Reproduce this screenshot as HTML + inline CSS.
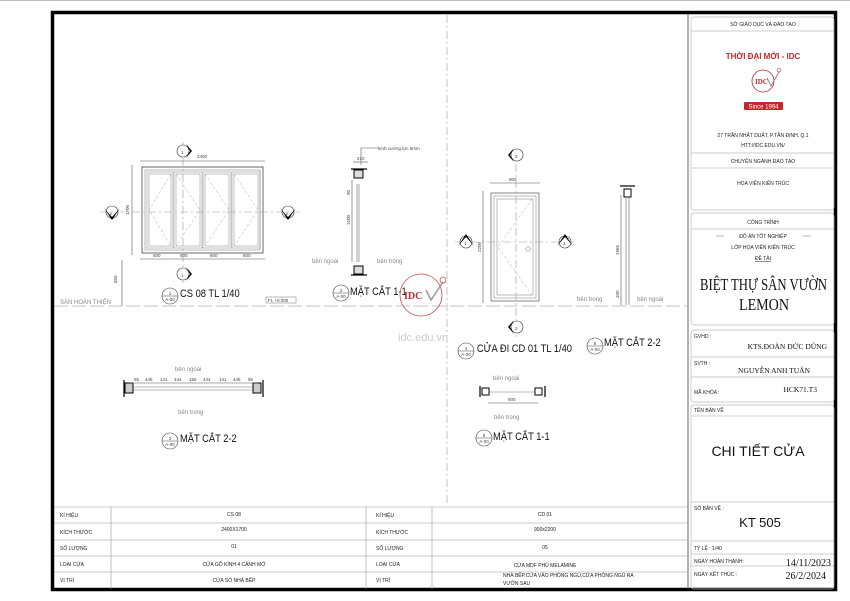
<!DOCTYPE html>
<html><head><meta charset="utf-8"><style>
html,body{margin:0;padding:0;background:#fff;}
svg{display:block;}
text{font-family:"Liberation Sans",sans-serif;}
.s{font-size:4.5px;fill:#444;}
.g{font-size:6px;fill:#888;}
.t{font-size:11px;fill:#111;}
.tb{font-size:5px;fill:#222;}
.ln{stroke:#555;stroke-width:0.6;fill:none;}
.dl{stroke:#999;stroke-width:0.6;fill:none;stroke-dasharray:8 3 2 3;}
.sf{font-family:"Liberation Serif",serif;}
</style></head><body>
<svg width="850" height="601" viewBox="0 0 850 601" xmlns="http://www.w3.org/2000/svg">
<rect x="0" y="0" width="850" height="601" fill="#fff"/>
<line x1="0" y1="0.5" x2="850" y2="0.5" stroke="#bbb"/>
<rect x="52.5" y="12.5" width="783" height="577" fill="none" stroke="#000" stroke-width="3.5"/>
<line x1="688" y1="14" x2="688" y2="589" stroke="#666" stroke-width="1"/>

<line class="dl" x1="447" y1="15" x2="447" y2="505"/>
<line x1="54" y1="306" x2="688" y2="306" stroke="#888" stroke-width="0.6" stroke-dasharray="14 4"/>
<text x="60" y="304" class="g" font-size="5.5">SÀN HOÀN THIỆN</text>
<rect x="266" y="297" width="30" height="6" fill="none" stroke="#777" stroke-width="0.5"/>
<text x="268" y="302" class="s" font-size="4">FL +0.000</text>
<line x1="122" y1="260" x2="122" y2="306" class="ln"/>
<text x="117" y="283" class="s" transform="rotate(-90 117 283)">850</text>

<g>
<rect x="142" y="167" width="121" height="86" fill="none" stroke="#444" stroke-width="0.8"/>
<rect x="145" y="170" width="115" height="80" fill="none" stroke="#777" stroke-width="0.5"/>
<g stroke="#666" stroke-width="0.4" fill="none">
<rect x="147" y="172" width="26" height="76"/><rect x="149" y="174" width="22" height="72"/>
<rect x="174" y="172" width="28" height="76"/><rect x="176" y="174" width="24" height="72"/>
<rect x="203" y="172" width="28" height="76"/><rect x="205" y="174" width="24" height="72"/>
<rect x="232" y="172" width="28" height="76"/><rect x="234" y="174" width="24" height="72"/>
</g>
<g stroke="#aaa" stroke-width="0.5" stroke-dasharray="3 2" fill="none">
<polyline points="171,174 149,210 171,246"/>
<polyline points="176,174 200,210 176,246"/>
<polyline points="205,174 229,210 205,246"/>
<polyline points="234,174 258,210 234,246"/>
</g>
<line class="dl" x1="100" y1="212" x2="300" y2="212"/>
<line class="dl" x1="183" y1="142" x2="183" y2="285"/>
<line class="ln" x1="140" y1="161" x2="265" y2="161"/><text x="197" y="158" class="s">2400</text>
<line class="ln" x1="140" y1="259" x2="265" y2="259"/>
<text x="153" y="257" class="s">600</text><text x="180" y="257" class="s">600</text><text x="210" y="257" class="s">600</text><text x="243" y="257" class="s">600</text>
<line class="ln" x1="132" y1="165" x2="132" y2="255"/><text x="129" y="215" class="s" transform="rotate(-90 129 215)">1700</text>
</g>
<g fill="#fff" stroke="#333" stroke-width="0.6">
<circle cx="183" cy="151" r="6"/><circle cx="183" cy="274" r="6"/>
<circle cx="112" cy="212" r="6"/><circle cx="288" cy="212" r="6"/>
</g>
<g fill="#000">
<path d="M186,144 L192,151 L186,158 L190,151Z"/><path d="M186,267 L192,274 L186,281 L190,274Z"/>
<path d="M104,208 L112,220 L120,208 L112,217Z"/><path d="M280,208 L288,220 L296,208 L288,217Z"/>
</g>
<g class="s" font-size="6" fill="#333"><text x="181" y="154">1</text><text x="181" y="277">1</text><text x="110" y="215">2</text><text x="286" y="215">2</text></g>

<g fill="#fff" stroke="#444" stroke-width="0.6">
<circle cx="170" cy="296" r="8"/><circle cx="341" cy="293" r="8"/><circle cx="466" cy="351" r="8"/><circle cx="595" cy="346" r="8"/><circle cx="170" cy="441" r="8"/><circle cx="484" cy="438" r="8"/>
</g>
<g stroke="#444" stroke-width="0.5">
<line x1="162" y1="296" x2="178" y2="296"/><line x1="333" y1="293" x2="349" y2="293"/><line x1="458" y1="351" x2="474" y2="351"/><line x1="587" y1="346" x2="603" y2="346"/><line x1="162" y1="441" x2="178" y2="441"/><line x1="476" y1="438" x2="492" y2="438"/>
</g>
<g class="s" font-size="4" fill="#222" text-anchor="middle">
<text x="170" y="295">1</text><text x="170" y="301">A-00</text>
<text x="341" y="292">2</text><text x="341" y="298">A-00</text>
<text x="466" y="350">4</text><text x="466" y="356">A-00</text>
<text x="595" y="345">5</text><text x="595" y="351">A-00</text>
<text x="170" y="440">3</text><text x="170" y="446">A-00</text>
<text x="484" y="437">6</text><text x="484" y="443">A-00</text>
</g>
<g class="t" transform="scale(0.85 1)">
<text x="211.8" y="297">CS 08 TL 1/40</text>
<text x="411.8" y="295">MẶT CẮT 1-1</text>
<text x="561" y="352">CỬA ĐI CD 01 TL 1/40</text>
<text x="710.6" y="346">MẶT CẮT 2-2</text>
<text x="211.8" y="442">MẶT CẮT 2-2</text>
<text x="580" y="440">MẶT CẮT 1-1</text>
</g>

<g>
<line x1="357" y1="184" x2="357" y2="262" stroke="#666" stroke-width="0.6"/>
<line x1="359" y1="184" x2="359" y2="262" stroke="#666" stroke-width="0.6"/>
<rect x="354" y="170" width="9" height="8" fill="#ddd" stroke="#000" stroke-width="1"/>
<line x1="351" y1="169" x2="367" y2="169" stroke="#000" stroke-width="1.2"/>
<rect x="354" y="266" width="9" height="8" fill="#ddd" stroke="#000" stroke-width="1"/>
<line x1="351" y1="275" x2="367" y2="275" stroke="#000" stroke-width="1.2"/>
<polyline class="ln" points="361,165 361,148 378,148"/>
<text x="378" y="150" class="s">kính cường lực 5mm</text>
<line class="ln" x1="353" y1="162" x2="368" y2="162"/><text x="357" y="160" class="s" font-size="4">210</text>
<line class="ln" x1="352" y1="180" x2="352" y2="262"/>
<text x="350" y="195" class="s" font-size="4" transform="rotate(-90 350 195)">90</text>
<text x="350" y="225" class="s" font-size="4" transform="rotate(-90 350 225)">1500</text>
<text x="312" y="263" class="g">bên ngoài</text>
<text x="377" y="263" class="g">bên trong</text>
</g>

<circle cx="421" cy="295" r="21" fill="none" stroke="#c24a4a" stroke-width="0.8"/>
<text x="404" y="299" class="sf" font-weight="bold" font-size="10" fill="#c0282c">IDC</text>
<path d="M426,290 L431,300 L443,282" fill="none" stroke="#999" stroke-width="1.5"/>
<circle cx="443" cy="280" r="3" fill="none" stroke="#c0282c" stroke-width="0.6"/>
<text x="398" y="341" font-size="11" fill="#ccc">idc.edu.vn</text>

<g>
<rect x="491" y="193" width="48" height="108" fill="none" stroke="#555" stroke-width="0.7"/>
<rect x="494" y="196" width="42" height="102" fill="none" stroke="#777" stroke-width="0.5"/>
<rect x="497" y="199" width="36" height="96" fill="none" stroke="#777" stroke-width="0.5"/>
<polyline points="532,199 498,247 532,295" fill="none" stroke="#aaa" stroke-width="0.5" stroke-dasharray="3 2"/>
<circle cx="528" cy="249" r="2.2" fill="none" stroke="#666" stroke-width="0.5"/>
<line class="dl" x1="455" y1="242" x2="575" y2="242"/>
<line class="dl" x1="516" y1="148" x2="516" y2="338"/>
<line class="ln" x1="490" y1="183" x2="540" y2="183"/><text x="509" y="181" class="s">900</text>
<line class="ln" x1="483" y1="191" x2="483" y2="303"/><text x="481" y="252" class="s" transform="rotate(-90 481 252)">2200</text>
</g>
<g fill="#fff" stroke="#333" stroke-width="0.6">
<circle cx="517" cy="155" r="6"/><circle cx="517" cy="327" r="6"/><circle cx="466" cy="242" r="6"/><circle cx="565" cy="242" r="6"/>
</g>
<g fill="#000">
<path d="M514,148 L508,155 L514,162 L510,155Z"/><path d="M514,320 L508,327 L514,334 L510,327Z"/>
<path d="M458,246 L466,234 L474,246 L466,237Z"/><path d="M557,246 L565,234 L573,246 L565,237Z"/>
</g>
<g class="s" font-size="6" fill="#333"><text x="515" y="158">2</text><text x="515" y="330">2</text><text x="464" y="245">1</text><text x="563" y="245">1</text></g>

<g>
<line x1="626" y1="198" x2="626" y2="305" stroke="#666" stroke-width="0.6"/>
<line x1="629" y1="198" x2="629" y2="305" stroke="#666" stroke-width="0.6"/>
<rect x="624" y="189" width="7" height="8" fill="#fff" stroke="#000" stroke-width="1"/>
<line x1="620" y1="186" x2="635" y2="186" stroke="#000" stroke-width="1.2"/>
<line class="ln" x1="621" y1="195" x2="621" y2="305"/>
<text x="619" y="255" class="s" font-size="4" transform="rotate(-90 619 255)">1965</text>
<text x="619" y="298" class="s" font-size="4" transform="rotate(-90 619 298)">100</text>
<text x="577" y="301" class="g">bên trong</text>
<text x="637" y="301" class="g">bên ngoài</text>
</g>

<g>
<line x1="127" y1="387" x2="258" y2="387" stroke="#777" stroke-width="0.6"/>
<line x1="127" y1="390" x2="258" y2="390" stroke="#777" stroke-width="0.6"/>
<rect x="125" y="383" width="8" height="10" fill="#ccc" stroke="#000" stroke-width="1"/>
<line x1="124" y1="380" x2="124" y2="397" stroke="#000" stroke-width="1.2"/>
<rect x="253" y="383" width="8" height="10" fill="#ccc" stroke="#000" stroke-width="1"/>
<line x1="263" y1="380" x2="263" y2="397" stroke="#000" stroke-width="1.2"/>
<line class="ln" x1="130" y1="383" x2="258" y2="383"/>
<g class="s" font-size="4"><text x="134" y="381">95</text><text x="145" y="381">445</text><text x="160" y="381">141</text><text x="174" y="381">444</text><text x="189" y="381">158</text><text x="203" y="381">444</text><text x="219" y="381">141</text><text x="233" y="381">445</text><text x="248" y="381">95</text></g>
<text x="175" y="371" class="g">bên ngoài</text>
<text x="178" y="414" class="g">bên trong</text>
</g>
<g>
<line x1="486" y1="392" x2="537" y2="392" stroke="#777" stroke-width="0.6"/>
<rect x="482" y="388" width="7" height="7" fill="#fff" stroke="#000" stroke-width="1"/>
<line x1="480" y1="386" x2="480" y2="397" stroke="#000" stroke-width="1.2"/>
<rect x="535" y="388" width="7" height="7" fill="#fff" stroke="#000" stroke-width="1"/>
<line x1="545" y1="386" x2="545" y2="397" stroke="#000" stroke-width="1.2"/>
<line class="ln" x1="488" y1="403" x2="538" y2="403"/><text x="508" y="401" class="s" font-size="4">900</text>
<text x="493" y="380" class="g">bên ngoài</text>
<text x="494" y="419" class="g">bên trong</text>
</g>

<g stroke="#999" stroke-width="0.6" fill="none">
<line x1="54" y1="507" x2="688" y2="507"/>
<line x1="54" y1="523" x2="688" y2="523"/>
<line x1="54" y1="540" x2="688" y2="540"/>
<line x1="54" y1="556" x2="688" y2="556"/>
<line x1="54" y1="572" x2="688" y2="572"/>
<line x1="111" y1="507" x2="111" y2="589"/>
<line x1="366" y1="507" x2="366" y2="589"/>
<line x1="432" y1="507" x2="432" y2="589"/>
</g>
<g class="tb" font-size="4.5">
<text x="60" y="517">KÍ HIỆU</text><text x="60" y="534">KÍCH THƯỚC</text><text x="60" y="550">SỐ LƯỢNG</text><text x="60" y="566">LOẠI CỬA</text><text x="60" y="582">VỊ TRÍ</text>
<text x="376" y="517">KÍ HIỆU</text><text x="376" y="534">KÍCH THƯỚC</text><text x="376" y="550">SỐ LƯỢNG</text><text x="376" y="566">LOẠI CỬA</text><text x="376" y="582">VỊ TRÍ</text>
</g>
<g class="tb" font-size="4.5" text-anchor="middle">
<text x="234" y="516">CS 08</text><text x="234" y="531">2400X1700</text><text x="234" y="548">01</text><text x="234" y="566">CỬA GỖ KÍNH 4 CÁNH MỞ</text><text x="234" y="582">CỬA SỔ NHÀ BẾP</text>
<text x="545" y="516">CD 01</text><text x="545" y="531">900x2200</text><text x="545" y="549">05</text><text x="545" y="567">CỬA MDF PHỦ MELAMINE</text>
</g>
<text x="503" y="577" class="tb" font-size="4.5">NHÀ BẾP,CỬA VÀO PHÒNG NGỦ,CỬA PHÒNG NGỦ RA</text>
<text x="503" y="585" class="tb" font-size="4.5">VƯỜN SAU</text>

<g fill="none" stroke="#bbb" stroke-width="0.7">
<rect x="691" y="17" width="143" height="193" rx="3"/>
<rect x="691" y="213" width="143" height="112" rx="3"/>
<rect x="691" y="330" width="143" height="72" rx="3"/>
<rect x="691" y="405" width="143" height="184" rx="3"/>
<line x1="691" y1="31" x2="834" y2="31"/>
<line x1="691" y1="153" x2="834" y2="153"/>
<line x1="691" y1="168" x2="834" y2="168"/>
<line x1="691" y1="229" x2="834" y2="229"/>
<line x1="691" y1="357" x2="834" y2="357"/>
<line x1="691" y1="377" x2="834" y2="377"/>
<line x1="691" y1="416" x2="834" y2="416"/>
<line x1="691" y1="502" x2="834" y2="502"/>
<line x1="691" y1="541" x2="834" y2="541"/>
<line x1="691" y1="554" x2="834" y2="554"/>
<line x1="691" y1="566" x2="834" y2="566"/>
<line x1="716" y1="236" x2="724" y2="236" stroke="#999"/>
<line x1="803" y1="236" x2="811" y2="236" stroke="#999"/>
</g>
<g class="tb" text-anchor="middle" font-size="5">
<text x="763" y="26">SỞ GIÁO DỤC VÀ ĐÀO TẠO</text>
<text x="763" y="137">27 TRẦN NHẬT DUẬT, P.TÂN ĐỊNH, Q.1</text>
<text x="763" y="147">HTT://IDC.EDU.VN/</text>
<text x="763" y="163">CHUYÊN NGÀNH ĐÀO TẠO</text>
<text x="763" y="185">HỌA VIÊN KIẾN TRÚC</text>
<text x="763" y="224">CÔNG TRÌNH</text>
<text x="763" y="238">ĐỒ ÁN TỐT NGHIỆP</text>
<text x="763" y="249">LỚP HỌA VIÊN KIẾN TRÚC</text>
<text x="763" y="260" text-decoration="underline">ĐỀ TÀI</text>
</g>
<text x="763" y="59" text-anchor="middle" font-size="8" font-weight="bold" fill="#c0282c">THỜI ĐẠI MỚI - IDC</text>
<circle cx="763" cy="81" r="11" fill="none" stroke="#c0282c" stroke-width="0.8"/>
<text x="755" y="84" class="sf" font-weight="bold" font-size="7" fill="#c0282c">IDC</text>
<path d="M767,78 L771,86 L779,72" fill="none" stroke="#888" stroke-width="1"/>
<circle cx="779" cy="70" r="2" fill="none" stroke="#c0282c" stroke-width="0.5"/>
<rect x="744" y="102" width="39" height="8" rx="1" fill="#c0282c"/>
<text x="763.5" y="108.5" text-anchor="middle" font-size="6" fill="#fff">Since 1994</text>
<text x="700" y="290" class="sf" font-size="17" fill="#111" textLength="127" lengthAdjust="spacingAndGlyphs">BIỆT THỰ SÂN VƯỜN</text>
<text x="739" y="310" class="sf" font-size="17" fill="#111" textLength="50" lengthAdjust="spacingAndGlyphs">LEMON</text>
<g class="tb" font-size="4.5">
<text x="694" y="338">GVHD :</text><text x="694" y="365">SVTH :</text><text x="694" y="394">MÃ KHÓA :</text>
<text x="694" y="412">TÊN BẢN VẼ</text><text x="694" y="510">SỐ BẢN VẼ :</text>
<text x="694" y="550">TỶ LỆ :  1/40</text><text x="694" y="563">NGÀY HOÀN THÀNH:</text><text x="694" y="576">NGÀY KẾT THÚC  :</text>
</g>
<g fill="#111" text-anchor="end">
<text x="827" y="349" class="sf" font-size="7.5">KTS.ĐOÀN ĐỨC DŨNG</text>
<text x="810" y="373" class="sf" font-size="7.5">NGUYỄN ANH TUẤN</text>
<text x="817" y="392" class="sf" font-size="7.5">HCK71.T3</text>
<text x="831" y="566" class="sf" font-size="10">14/11/2023</text>
<text x="826" y="579" class="sf" font-size="10">26/2/2024</text>
</g>
<text x="758" y="456" text-anchor="middle" font-size="14" fill="#111">CHI TIẾT CỬA</text>
<text x="760" y="527" text-anchor="middle" font-size="13" fill="#111">KT 505</text>
</svg>
</body></html>
